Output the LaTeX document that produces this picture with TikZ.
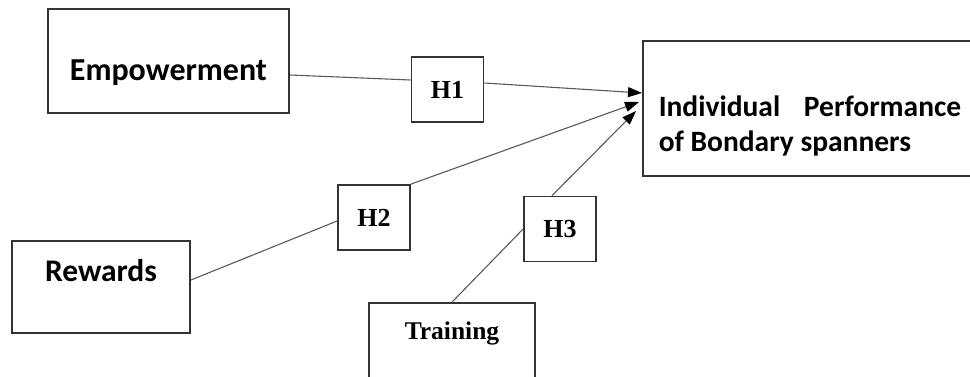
\documentclass[tikz,border=0pt]{standalone}
\usepackage{fontspec}
\setmainfont{Liberation Serif}
\newfontfamily\calibri{Carlito}
\usetikzlibrary{arrows.meta}

\begin{document}
\begin{tikzpicture}[x=1pt,y=-1pt]
    \newcommand{\bord}{1.8pt} % width of the box borders
    \newcommand{\wire}{1.1pt} % width of the connectors

    % set the styles of the boxes and the connectors
    \tikzset{
        varbox/.style={
            draw=black!80,
            line width=\bord,
            inner sep=0pt
            },
        varlabel/.style={font=\calibri\fontsize{32}{35}\selectfont\bfseries},
        hypbox/.style={
            varbox,
            minimum width=72pt,
            minimum height=65pt,
            font=\fontsize{26}{28}\selectfont\bfseries
            },
        link/.style={draw=black!65, line width=\wire},
        effect/.style={link, -{Triangle[length=14pt,width=10pt,color=black]}}
    }

    \useasboundingbox (0,0) rectangle (970,376);

    % variables
    \node[varbox, minimum width=241pt, minimum height=104pt,
          label={[varlabel,yshift=-12pt]center:Empowerment}] (emp) at (168.5,61) {};
    \node[varbox, minimum width=178pt, minimum height=92pt,
          label={[varlabel,font=\calibri\fontsize{31.5}{35}\selectfont\bfseries,yshift=16pt]center:Rewards}] (rew) at (101,287) {};
    \node[varbox, minimum width=166pt, minimum height=100pt,
          label={[font=\fontsize{25.5}{28}\selectfont\bfseries,yshift=20pt]center:Training}] (train) at (452,353) {};
    \node[varbox, minimum width=340pt, minimum height=135pt,
          label={[varlabel,font=\calibri\fontsize{29.5}{35}\selectfont\bfseries,align=left,xshift=-3pt,yshift=-17pt]center:{Individual\hspace{17pt} Performance\\of Bondary spanners}}] (ip) at (813,108.5) {};

    % hypotheses
    \node[hypbox] (h1) at (447.5,89.5) {H1};
    \node[hypbox] (h2) at (374,217.5) {H2};
    \node[hypbox] (h3) at (560,229) {H3};

    % arrow heads on the outcome box
    \coordinate (tip1) at (642,93);
    \coordinate (tip2) at (639,102);
    \coordinate (tip3) at (636,111);

    % connectors
    \draw[link] ([yshift=-14pt]emp.east) -- ([yshift=9.5pt]h1.west);
    \draw[effect] ([yshift=6.5pt]h1.east) -- (tip1);
    \draw[link] ([yshift=7pt]rew.east) -- ([yshift=-3.5pt]h2.west);
    \draw[effect] (h2.north east) -- (tip2);
    \draw[link] (train.north) -- (h3.west);
    \draw[effect] ([xshift=-8pt]h3.north) -- (tip3);
\end{tikzpicture}
\end{document}
